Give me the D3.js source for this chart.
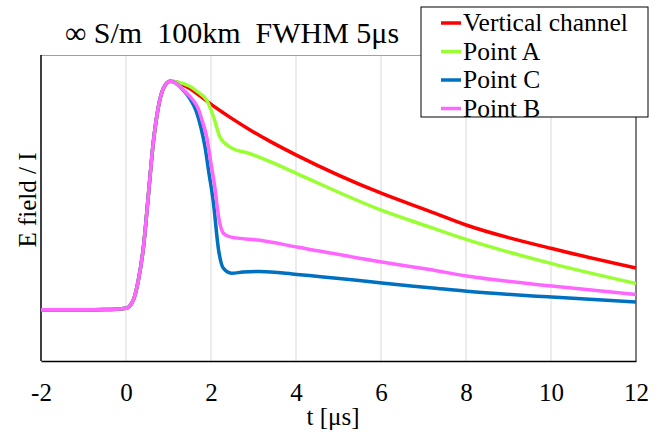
<!DOCTYPE html>
<html>
<head>
<meta charset="utf-8">
<script src="https://cdn.jsdelivr.net/npm/d3@7"></script>
<style>
  body { margin: 0; background: #fff; }
</style>
</head>
<body>
<div id="chart"></div>
<script>
const FONT = "'Liberation Serif', 'Times New Roman', serif";

// common rising edge shared by all curves
const riseT = [-2, -1, -0.5, 0, 0.17, 0.29, 0.41, 0.53, 0.64, 0.76, 0.88, 1.04];
const riseV = [0, 0, 0.001, 0.007, 0.042, 0.129, 0.274, 0.51, 0.729, 0.886, 0.969, 1.0];

const redT = [1.2, 1.5, 1.75, 1.98, 2.45, 2.92, 3.39, 4.02, 6.02, 7.15, 8.02, 10.02, 12];
const redV = [0.996, 0.968, 0.935, 0.902, 0.842, 0.787, 0.737, 0.676, 0.509, 0.431, 0.37, 0.268, 0.183];

const greenT = [1.2, 1.5, 1.7, 1.9, 2.06, 2.21, 2.45, 2.92, 3.39, 4.02, 6.02, 7.15, 8.02, 10.02, 12];
const greenV = [0.997, 0.978, 0.952, 0.917, 0.844, 0.756, 0.712, 0.683, 0.648, 0.596, 0.435, 0.362, 0.307, 0.202, 0.115];

const blueT = [1.2, 1.34, 1.5, 1.65, 1.76, 1.86, 1.95, 2.05, 2.18, 2.29, 2.48, 2.75, 3.15, 4.02, 5.43, 6.02, 7.15, 8.02, 10.02, 12];
const blueV = [0.988, 0.962, 0.925, 0.87, 0.8, 0.712, 0.6, 0.479, 0.26, 0.182, 0.16, 0.165, 0.168, 0.155, 0.129, 0.117, 0.097, 0.081, 0.056, 0.034];

const pinkT = [1.2, 1.35, 1.58, 1.7, 1.78, 1.9, 2.0, 2.09, 2.18, 2.29, 2.45, 3.15, 4.02, 6.02, 7.15, 8.02, 10.02, 12];
const pinkV = [0.988, 0.962, 0.917, 0.88, 0.835, 0.756, 0.64, 0.537, 0.406, 0.335, 0.319, 0.304, 0.275, 0.209, 0.176, 0.148, 0.104, 0.067];

const seriesNames = ["Vertical channel", "Point A", "Point C", "Point B"];
const seriesColors = ["#ff0000", "#99ff33", "#0070c0", "#ff66ff"];
const xTicks = [-2, 0, 2, 4, 6, 8, 10, 12];

const series = [
  [redT, redV],
  [greenT, greenV],
  [blueT, blueV],
  [pinkT, pinkV],
].map(([ts, vs], i) => ({
  name: seriesNames[i],
  color: seriesColors[i],
  values: riseT.map((t, j) => ({ t: t, v: riseV[j] }))
    .concat(ts.map((t, j) => ({ t: t, v: vs[j] }))),
}));

const W = 665, H = 440;
const margin = { top: 55, right: 29, bottom: 79, left: 41 };
const width = W - margin.left - margin.right,
  height = H - margin.top - margin.bottom;

const svg = d3.select("#chart").append("svg")
  .attr("width", W).attr("height", H)
  .attr("font-family", FONT);

const g = svg.append("g")
  .attr("transform", `translate(${margin.left},${margin.top})`);

const x = d3.scaleLinear().domain([-2, 12]).range([0, width]);
const y = d3.scaleLinear().domain([-0.224, 1.115]).range([height, 0]);

// vertical gridlines
g.selectAll(".grid")
  .data(xTicks.slice(1, -1))
  .enter().append("line")
  .attr("x1", (d) => x(d)).attr("x2", (d) => x(d))
  .attr("y1", 0).attr("y2", height)
  .attr("stroke", "#d9d9d9").attr("stroke-width", 1);

// plot frame
g.append("line").attr("x1", 0).attr("x2", width).attr("y1", 0.5).attr("y2", 0.5)
  .attr("stroke", "#a0a0a0");
g.append("line").attr("x1", width).attr("x2", width).attr("y1", 0).attr("y2", height)
  .attr("stroke", "#000");

const xAxis = g.append("g")
  .attr("transform", `translate(0,${height})`)
  .call(d3.axisBottom(x).tickValues(xTicks).tickSize(0).tickPadding(22)
    .tickFormat((d) => String(d)));
xAxis.attr("font-family", FONT).attr("font-size", 25);
xAxis.select(".domain").attr("stroke", "#000").attr("stroke-width", 1.5);
xAxis.selectAll("text").attr("fill", "#000");

g.append("line").attr("x1", 0).attr("x2", 0).attr("y1", 0).attr("y2", height)
  .attr("stroke", "#000").attr("stroke-width", 1.5);

const line = d3.line()
  .x((d) => x(d.t))
  .y((d) => y(d.v))
  .curve(d3.curveMonotoneX);

g.selectAll(".series")
  .data(series)
  .enter().append("path")
  .attr("d", (d) => line(d.values))
  .attr("fill", "none")
  .attr("stroke", (d) => d.color)
  .attr("stroke-width", 3.5)
  .attr("stroke-linejoin", "round");

// axis titles
svg.append("text")
  .attr("x", 333).attr("y", 425)
  .attr("text-anchor", "middle")
  .attr("font-size", 25)
  .text("t [μs]");

svg.append("text")
  .attr("transform", "translate(36,200) rotate(-90)")
  .attr("text-anchor", "middle")
  .attr("font-size", 25)
  .text("E field / I");

// title
svg.append("text")
  .attr("x", 232).attr("y", 43)
  .attr("text-anchor", "middle")
  .attr("font-size", 30)
  .attr("xml:space", "preserve")
  .style("white-space", "pre")
  .text("∞ S/m  100km  FWHM 5μs");

// legend
const legend = svg.append("g").attr("transform", "translate(421,7)");
legend.append("rect")
  .attr("width", 227).attr("height", 110)
  .attr("fill", "#fff").attr("stroke", "#000").attr("stroke-width", 1);

const items = legend.selectAll(".item")
  .data(series)
  .enter().append("g")
  .attr("transform", (d, i) => `translate(0,${16 + i * 28.5})`);
items.append("line")
  .attr("x1", 20).attr("x2", 40)
  .attr("stroke", (d) => d.color).attr("stroke-width", 3.5);
items.append("text")
  .attr("x", 42).attr("y", 8)
  .attr("font-size", 25.5)
  .text((d) => d.name);
</script>
</body>
</html>
